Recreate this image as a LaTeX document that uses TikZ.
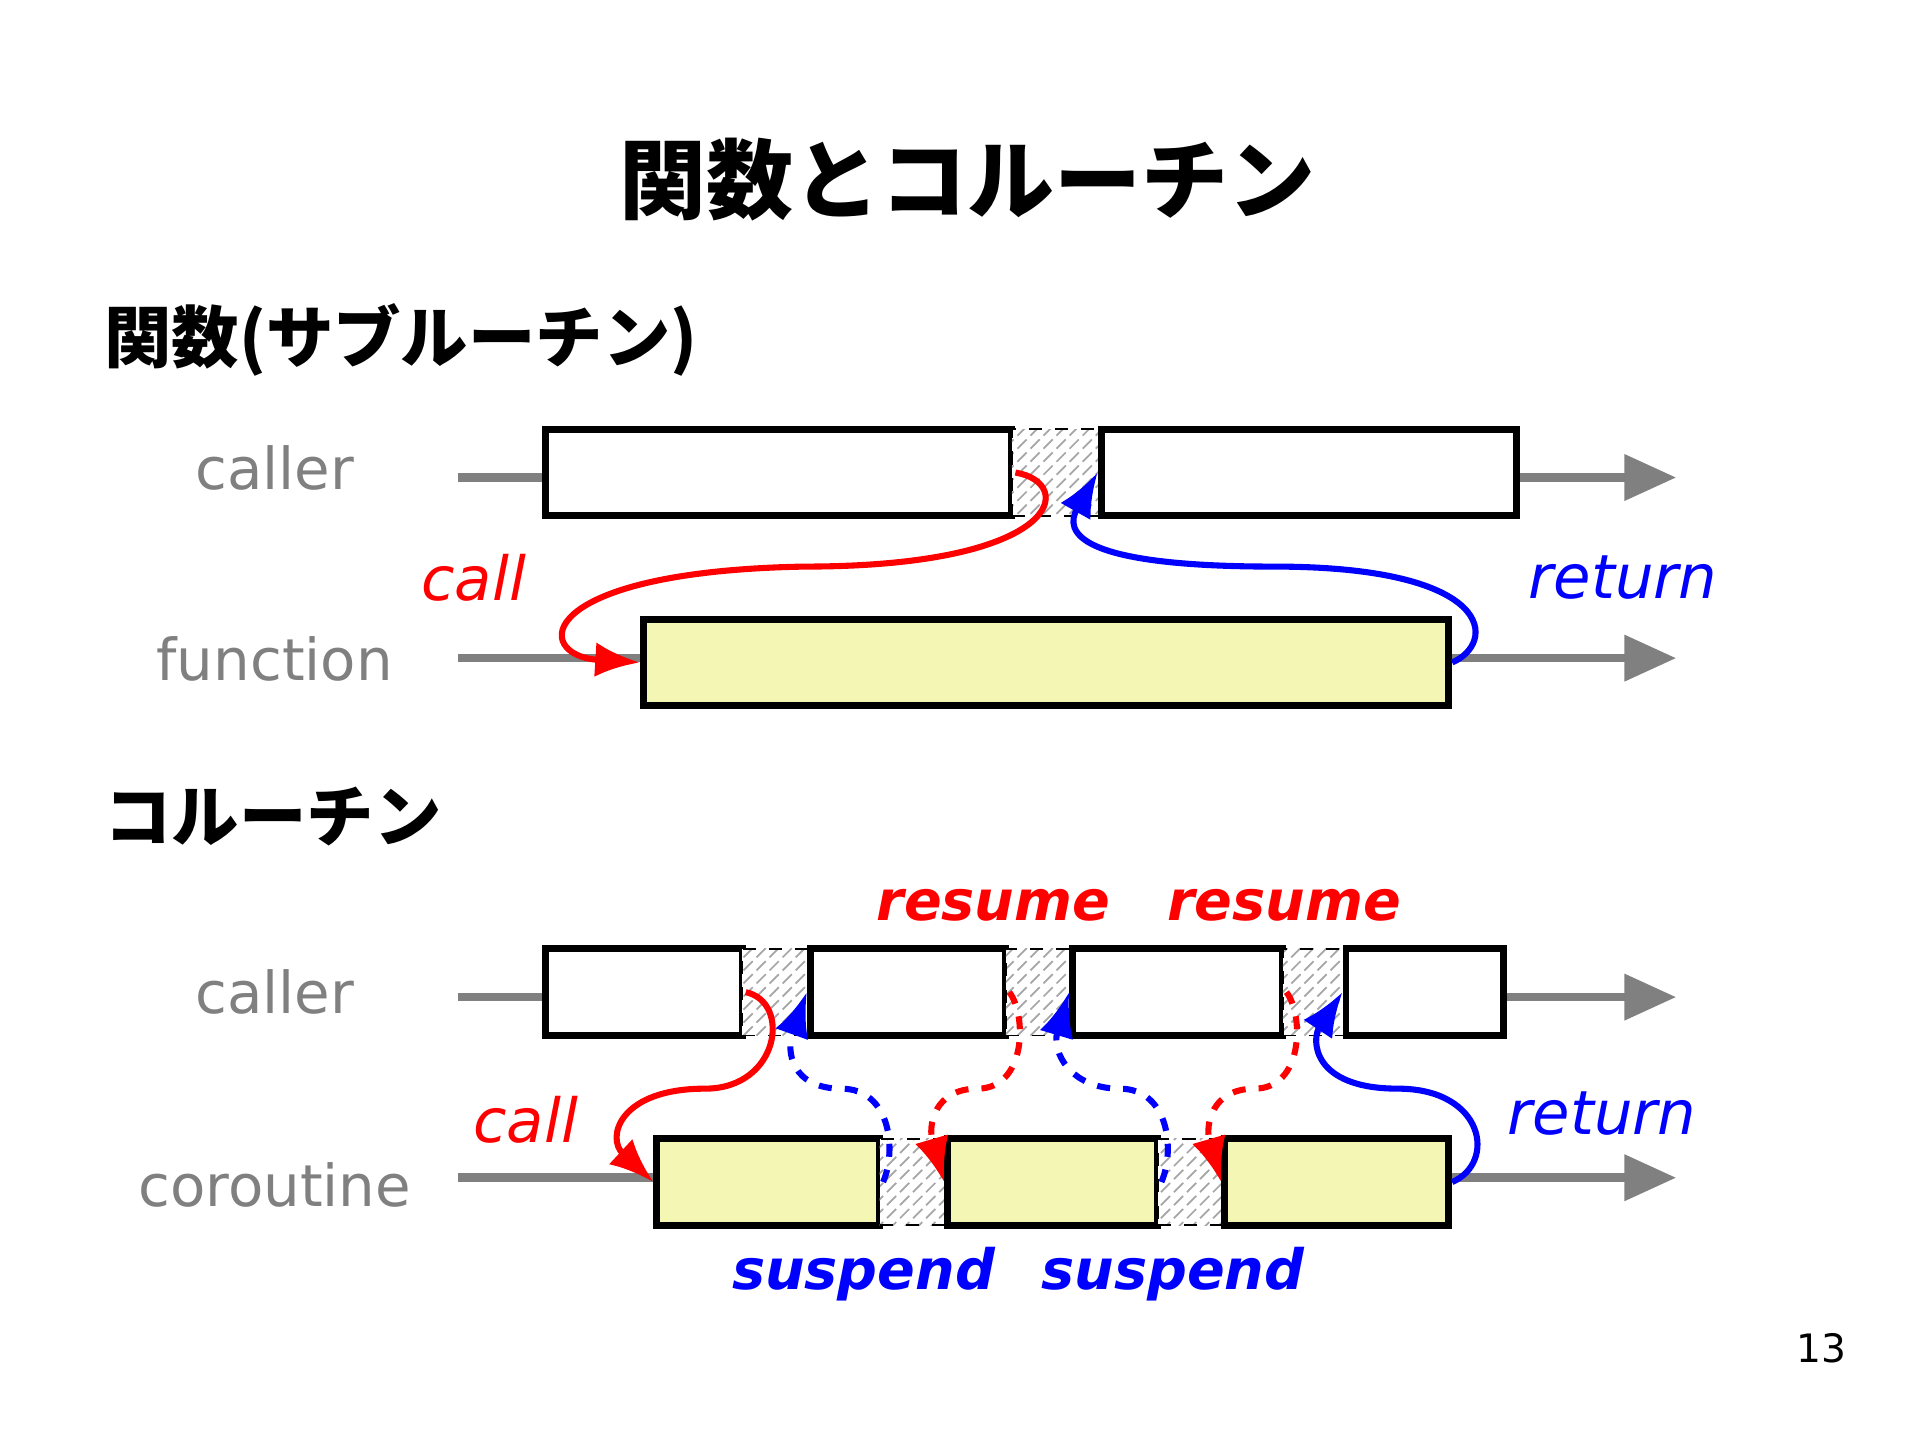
\documentclass[tikz,border=0pt]{standalone}
\usepackage{fontspec}
\setmainfont{DejaVu Sans}
\newfontfamily\jafont{Noto Sans CJK JP}
\usetikzlibrary{patterns,arrows.meta}
\tikzset{
  lane/.style={draw=gray,line width=2pt,-{Triangle[length=0.42cm,width=0.36cm]}},
  callbox/.style={draw,line width=1.6pt,fill=white,minimum height=0.70cm,inner sep=0pt},
  funbox/.style={callbox,fill=yellow!40!lime!30},
  gap/.style={draw,dashed,thin,preaction={fill=white},pattern=north east lines,pattern color=gray!70,minimum height=0.70cm,inner sep=0pt},
  lbl/.style={text=gray,font=\fontsize{13.3}{13.3}\selectfont},
  ctrl/.style={line width=1.4pt,-{Latex[length=0.36cm,width=0.28cm]}},
  ctrltxt/.style={font=\fontsize{14}{14}\selectfont\itshape},
  sectxt/.style={font=\fontsize{12.8}{12.8}\selectfont\bfseries\itshape}
}
\begin{document}
\begin{tikzpicture}
  \useasboundingbox (0,0) rectangle (15.52,-11.64);
  \node (title) at (7.82,-1.45) {\jafont\bfseries\fontsize{20}{20}\selectfont 関数とコルーチン};
  \node[anchor=west] (sub) at (0.72,-2.75) {\jafont\bfseries\fontsize{15.5}{15.5}\selectfont 関数(サブルーチン)};
  \node[anchor=west] (co) at (0.72,-6.6) {\jafont\bfseries\fontsize{15.5}{15.5}\selectfont コルーチン};

  % subroutine
  \node[lbl] (l1) at (2.22,-3.78) {caller};
  \node[lbl] (l2) at (2.22,-5.33) {function};
  \coordinate (s1) at (3.70,-3.86);
  \coordinate (e1) at (13.55,-3.86);
  \coordinate (s2) at (3.70,-5.32);
  \coordinate (e2) at (13.55,-5.32);
  \draw[lane] (s1) -- (e1);
  \draw[lane] (s2) -- (e2);
  \node[callbox,minimum width=3.77cm] (ca) at (6.295,-3.82) {};
  \node[gap,minimum width=0.72cm] (ga) at (8.54,-3.82) {};
  \node[callbox,minimum width=3.36cm] (cb) at (10.58,-3.82) {};
  \node[funbox,minimum width=6.51cm] (fn) at (8.455,-5.355) {};
  \draw[ctrl,red] (ca.east) .. controls (8.7,-3.9) and (8.6,-4.58) .. (6.5,-4.58)
    .. controls (4.3,-4.62) and (4.3,-5.3) .. (fn.west);
  \draw[ctrl,blue] (fn.east) .. controls (12.1,-5.2) and (12.1,-4.58) .. (10.3,-4.58)
    .. controls (8.7,-4.58) and (8.6,-4.3) .. (cb.west);
  \node[ctrltxt,red] (tcall) at (3.83,-4.67) {call};
  \node[ctrltxt,blue] (tret) at (13.12,-4.67) {return};

  % coroutine
  \node[lbl] (l3) at (2.22,-8.02) {caller};
  \node[lbl] (l4) at (2.22,-9.58) {coroutine};
  \coordinate (s3) at (3.70,-8.06);
  \coordinate (e3) at (13.55,-8.06);
  \coordinate (s4) at (3.70,-9.52);
  \coordinate (e4) at (13.55,-9.52);
  \draw[lane] (s3) -- (e3);
  \draw[lane] (s4) -- (e4);
  \node[callbox,minimum width=1.59cm] (k1) at (5.205,-8.02) {};
  \node[gap,minimum width=0.55cm] (g1) at (6.275,-8.02) {};
  \node[callbox,minimum width=1.58cm] (k2) at (7.34,-8.02) {};
  \node[gap,minimum width=0.54cm] (g2) at (8.40,-8.02) {};
  \node[callbox,minimum width=1.70cm] (k3) at (9.52,-8.02) {};
  \node[gap,minimum width=0.51cm] (g3) at (10.625,-8.02) {};
  \node[callbox,minimum width=1.27cm] (k4) at (11.515,-8.02) {};
  \node[funbox,minimum width=1.80cm] (r1) at (6.21,-9.555) {};
  \node[gap,minimum width=0.55cm] (h1) at (7.385,-9.555) {};
  \node[funbox,minimum width=1.70cm] (r2) at (8.51,-9.555) {};
  \node[gap,minimum width=0.54cm] (h2) at (9.63,-9.555) {};
  \node[funbox,minimum width=1.81cm] (r3) at (10.805,-9.555) {};

  \draw[ctrl,red] (k1.east) .. controls (6.4,-8.1) and (6.3,-8.8) .. (5.7,-8.8)
    .. controls (5.0,-8.8) and (4.9,-9.2) .. (r1.west);
  \draw[ctrl,red,dashed] (k2.east) .. controls (8.3,-8.2) and (8.3,-8.8) .. (7.9,-8.8)
    .. controls (7.55,-8.8) and (7.5,-9.1) .. (r2.west);
  \draw[ctrl,red,dashed] (k3.east) .. controls (10.54,-8.2) and (10.54,-8.8) .. (10.14,-8.8)
    .. controls (9.79,-8.8) and (9.74,-9.1) .. (r3.west);
  \draw[ctrl,blue,dashed] (r1.east) .. controls (7.25,-9.3) and (7.2,-8.8) .. (6.8,-8.8)
    .. controls (6.4,-8.8) and (6.35,-8.5) .. (k2.west);
  \draw[ctrl,blue,dashed] (r2.east) .. controls (9.5,-9.3) and (9.45,-8.8) .. (9.05,-8.8)
    .. controls (8.65,-8.8) and (8.5,-8.5) .. (k3.west);
  \draw[ctrl,blue] (r3.east) .. controls (12.1,-9.4) and (12.0,-8.8) .. (11.3,-8.8)
    .. controls (10.6,-8.8) and (10.6,-8.4) .. (k4.west);
  \node[ctrltxt,red] (tcall2) at (4.25,-9.05) {call};
  \node[ctrltxt,blue] (tret2) at (12.95,-9.0) {return};
  \node[sectxt,red] (res1) at (8.03,-7.32) {resume};
  \node[sectxt,red] (res2) at (10.38,-7.32) {resume};
  \node[sectxt,blue] (sus1) at (6.98,-10.3) {suspend};
  \node[sectxt,blue] (sus2) at (9.48,-10.3) {suspend};
  \node[font=\fontsize{9}{9}\selectfont] (page) at (14.72,-10.9) {13};
\end{tikzpicture}
\end{document}
